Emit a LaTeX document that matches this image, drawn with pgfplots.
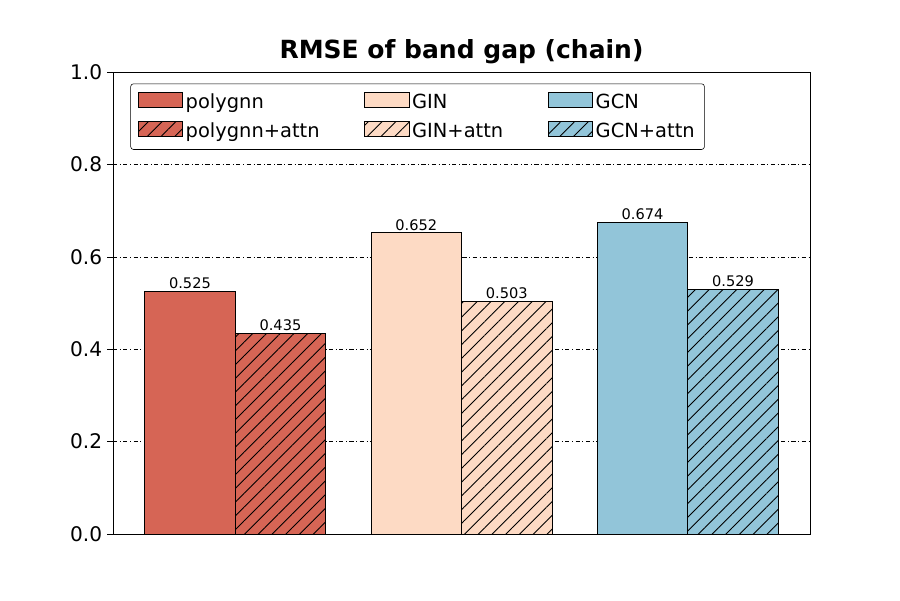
\documentclass[border=0pt]{standalone}
\usepackage{pgfplots}
\pgfplotsset{compat=1.18}
\usetikzlibrary{patterns.meta}
\usepackage{fontspec}
\setmainfont{DejaVu Sans}
\definecolor{cP}{HTML}{D66555}
\definecolor{cG}{HTML}{FDDAC4}
\definecolor{cC}{HTML}{92C5D9}
\begin{document}
\begin{tikzpicture}
\useasboundingbox (-81.36pt,-47.52pt) rectangle (566.64pt,384.48pt);
\begin{axis}[at={(0,0)},anchor=south west,scale only axis,width=501.84pt,height=332.64pt,
 xmin=-0.54,xmax=2.54,ymin=0,ymax=1,xtick=\empty,
 ytick={0,0.2,...,1.0},yticklabel style={/pgf/number format/fixed,/pgf/number format/precision=1,/pgf/number format/fixed zerofill},
 /pgf/number format/assume math mode=true,
 tick label style={font=\fontsize{14.5}{17}\selectfont},
 tick align=outside, ytick style={black}, ytick pos=left,
 ymajorgrids, grid style={black,dash dot,line width=0.3pt},
 title={\fontsize{18}{21}\selectfont\bfseries RMSE of band gap (chain)},
 title style={yshift=-4pt},
 legend columns=3,
 legend cell align=left,
 legend style={at={(0.025,0.975)},anchor=north west,font=\fontsize{14}{16}\selectfont,
   /tikz/every even column/.append style={column sep=30pt},
   row sep=5pt,inner sep=5pt,rounded corners=2pt,draw=black},
 legend image code/.code={\draw[#1,sharp corners] (0pt,-4pt) rectangle (32pt,7pt);},
 nodes near coords,nodes near coords style={font=\fontsize{10.5}{12}\selectfont,/pgf/number format/fixed,/pgf/number format/precision=3,/pgf/number format/fixed zerofill,inner sep=1.5pt},
 every axis plot/.append style={ybar,bar width=0.4,bar shift=0pt,draw=black,line width=0.6pt},
]
\addplot[fill=cP] coordinates {(-0.2,0.525)};
\addlegendentry{polygnn}
\addplot[fill=cG] coordinates {(0.8,0.652)};
\addlegendentry{GIN}
\addplot[fill=cC] coordinates {(1.8,0.674)};
\addlegendentry{GCN}
\addplot[fill=cP,postaction={pattern={Lines[angle=45,distance=7pt,line width=0.6pt]}}] coordinates {(0.2,0.435)};
\addlegendentry{polygnn+attn}
\addplot[fill=cG,postaction={pattern={Lines[angle=45,distance=7pt,line width=0.6pt]}}] coordinates {(1.2,0.503)};
\addlegendentry{GIN+attn}
\addplot[fill=cC,postaction={pattern={Lines[angle=45,distance=7pt,line width=0.6pt]}}] coordinates {(2.2,0.529)};
\addlegendentry{GCN+attn}
\end{axis}
\end{tikzpicture}
\end{document}
